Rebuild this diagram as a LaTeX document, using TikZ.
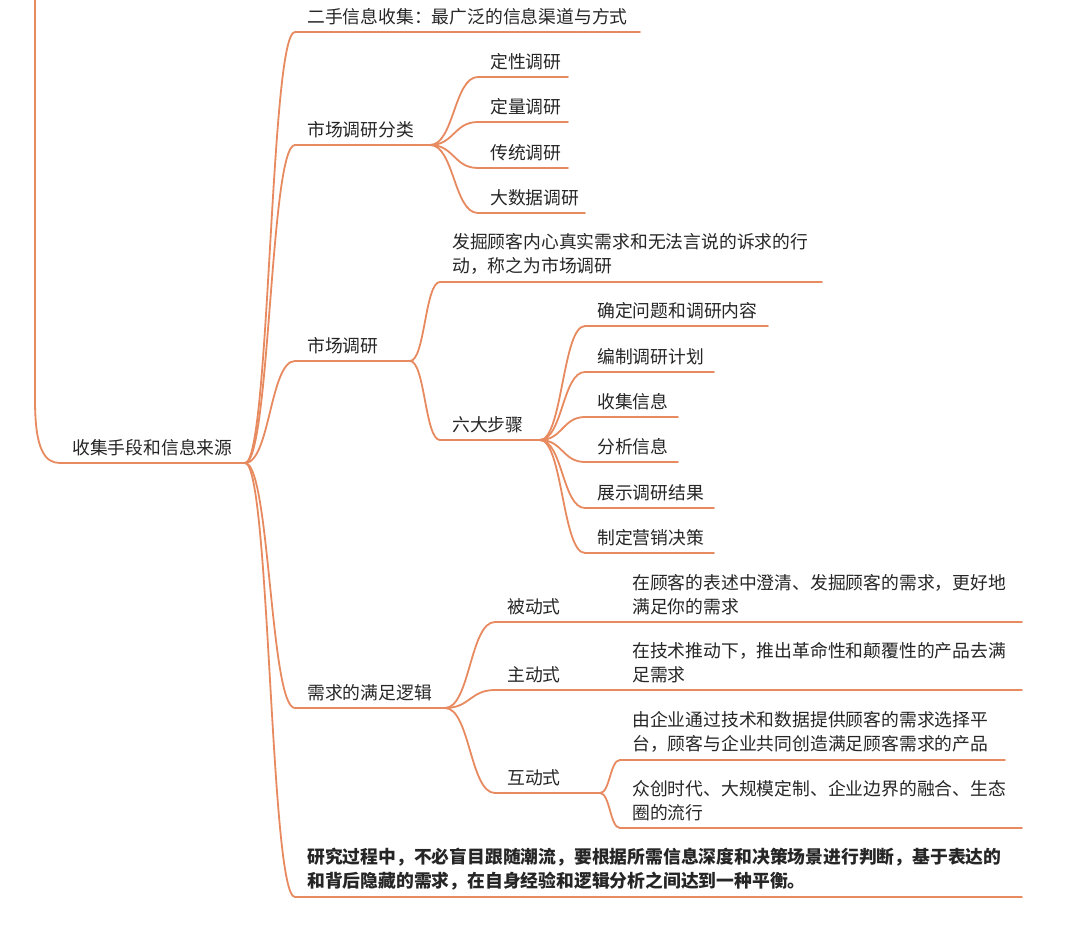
\documentclass[tikz,border=0pt]{standalone}
\usepackage{fontspec}
\setmainfont{Noto Sans CJK SC}
\begin{document}
\begin{tikzpicture}[x=1pt,y=-1pt,
  lnk/.style={draw=mmor,line width=1.8pt,line cap=round},
  txt/.style={anchor=south west,inner sep=0pt,align=left,font=\fontsize{17.8}{24}\selectfont,text=black!85}]
\definecolor{mmor}{RGB}{232,138,96}
\fill[white] (0,0) rectangle (1076,942);
\useasboundingbox (0,0) rectangle (1076,942);
\newcommand\mmleaf[5]{%
  \coordinate (#1-s) at (#2,#4);
  \coordinate (#1-e) at (#3,#4);
  \node[txt] (#1) at (#2+12,#4-7) {#5};
  \draw[lnk] (#1-s) -- (#1-e);}
\newcommand\mmconn[2]{%
  \draw[lnk] (#1-e) .. controls ($(#1-e)!0.5!(#2-s|-#1-e)$) and ($(#2-s)!0.5!(#1-e|-#2-s)$) .. (#2-s);}
\usetikzlibrary{calc}
% root
\mmleaf{root}{60}{245}{463}{收集手段和信息来源}
\coordinate (top) at (35,-5);
\draw[lnk] (top) -- (35,400) .. controls (35,450) and (45,463) .. (root-s);
% level 1
\mmleaf{a}{295}{640}{32}{二手信息收集：最广泛的信息渠道与方式}
\mmleaf{b}{295}{430}{145}{市场调研分类}
\mmleaf{c}{295}{410}{361}{市场调研}
\mmleaf{d}{295}{445}{708}{需求的满足逻辑}
\mmleaf{e}{295}{1022}{897}{\bfseries 研究过程中，不必盲目跟随潮流，要根据所需信息深度和决策场景进行判断，基于表达的\\\bfseries 和背后隐藏的需求，在自身经验和逻辑分析之间达到一种平衡。}
\foreach \n in {a,b,c,d,e} {\mmconn{root}{\n}}
% b children
\mmleaf{b1}{478}{568}{77}{定性调研}
\mmleaf{b2}{478}{568}{122}{定量调研}
\mmleaf{b3}{478}{568}{168}{传统调研}
\mmleaf{b4}{478}{585}{213}{大数据调研}
\foreach \n in {b1,b2,b3,b4} {\mmconn{b}{\n}}
% c children
\mmleaf{c1}{440}{822}{282}{发掘顾客内心真实需求和无法言说的诉求的行\\动，称之为市场调研}
\mmleaf{c2}{440}{540}{440}{六大步骤}
\mmconn{c}{c1}\mmconn{c}{c2}
\mmleaf{s1}{585}{768}{326}{确定问题和调研内容}
\mmleaf{s2}{585}{714}{372}{编制调研计划}
\mmleaf{s3}{585}{678}{417}{收集信息}
\mmleaf{s4}{585}{678}{462}{分析信息}
\mmleaf{s5}{585}{714}{508}{展示调研结果}
\mmleaf{s6}{585}{714}{553}{制定营销决策}
\foreach \n in {s1,s2,s3,s4,s5,s6} {\mmconn{c2}{\n}}
% d children
\mmleaf{d1}{495}{620}{622}{被动式}
\mmleaf{d2}{495}{620}{690}{主动式}
\mmleaf{d3}{495}{600}{793}{互动式}
\foreach \n in {d1,d2,d3} {\mmconn{d}{\n}}
\mmleaf{d1a}{620}{1022}{622}{在顾客的表述中澄清、发掘顾客的需求，更好地\\满足你的需求}
\mmleaf{d2a}{620}{1022}{690}{在技术推动下，推出革命性和颠覆性的产品去满\\足需求}
\mmleaf{d3a}{620}{1005}{760}{由企业通过技术和数据提供顾客的需求选择平\\台，顾客与企业共同创造满足顾客需求的产品}
\mmleaf{d3b}{620}{1022}{828}{众创时代、大规模定制、企业边界的融合、生态\\圈的流行}
\mmconn{d3}{d3a}\mmconn{d3}{d3b}
\end{tikzpicture}
\end{document}
